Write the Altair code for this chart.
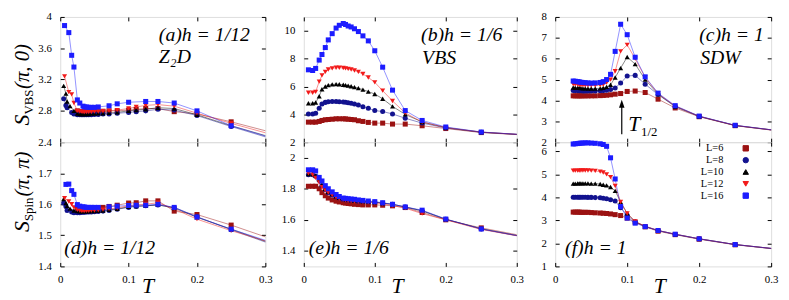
import altair as alt
import pandas as pd

SERIF = "Liberation Serif, DejaVu Serif, serif"
SERIES = ["L=6", "L=8", "L=10", "L=12", "L=16"]
COLORS = ["#9b1212", "#12128f", "#000000", "#f21a1a", "#1c1cff"]
SHAPES = ["square", "circle", "triangle-up", "triangle-down", "square"]
X_TICKS = [0, 0.1, 0.2, 0.3]

# ---------------- temperature grids ----------------
T_A = [0.0050, 0.0063, 0.0083, 0.0100, 0.0125, 0.0143, 0.0167, 0.0200, 0.0250, 0.0286,
       0.0312, 0.0333, 0.0357, 0.0385, 0.0417, 0.0455, 0.0500, 0.0556, 0.0625, 0.0714,
       0.0833, 0.1000, 0.1111, 0.1250, 0.1429, 0.1667, 0.2000, 0.2500, 0.3333]
T_B = [0.0065, 0.0125, 0.0167, 0.0217, 0.0256, 0.0303, 0.0345, 0.0400, 0.0455, 0.0500,
       0.0556, 0.0588, 0.0625, 0.0667, 0.0714, 0.0769, 0.0833, 0.0909, 0.1000, 0.1111,
       0.1250, 0.1429, 0.1667, 0.2000, 0.2500, 0.3333]
T_C = [0.0250, 0.0278, 0.0312, 0.0333, 0.0357, 0.0385, 0.0417, 0.0455, 0.0500, 0.0556,
       0.0625, 0.0667, 0.0714, 0.0769, 0.0833, 0.0909, 0.1000, 0.1111, 0.1250, 0.1429,
       0.1667, 0.2000, 0.2500, 0.3333]

# ---------------- (a) S_VBS, h = 1/12 ----------------
A_L6 = [None, None, None, None, None, None, None, None, 2.80, 2.79, 2.79, 2.79, 2.79, 2.79,
        2.79, 2.79, 2.79, 2.79, 2.795, 2.80, 2.80, 2.81, 2.82, 2.83, 2.83, 2.79, 2.76, 2.66, 2.47]
A_L8 = [2.955, None, 2.87, 2.84, None, None, 2.78, 2.76, 2.75, 2.75, 2.75, 2.75, 2.75, 2.75,
        2.75, 2.75, 2.755, 2.755, 2.76, 2.76, 2.77, 2.78, 2.79, 2.80, 2.82, 2.81, 2.74, 2.60, 2.38]
A_L10 = [3.12, None, 3.02, 2.92, None, 2.86, None, 2.80, 2.765, 2.76, 2.76, 2.76, 2.76, 2.76,
         2.76, 2.765, 2.765, 2.77, 2.77, 2.775, 2.78, 2.80, 2.81, 2.82, 2.84, 2.83, 2.75, 2.61, 2.40]
A_L12 = [None, 3.24, None, None, 3.04, None, 3.01, 2.90, 2.80, 2.79, 2.79, 2.785, 2.785, 2.785,
         2.785, 2.785, 2.79, 2.79, 2.795, 2.80, 2.81, 2.83, 2.85, 2.87, 2.88, 2.86, 2.77, 2.64, 2.44]
A_L16 = [None, 3.89, None, None, 3.80, None, 3.51, 3.36, 2.94, 2.90, None, 2.86, 2.85, 2.85,
         2.845, 2.845, 2.845, 2.85, None, 2.865, 2.89, 2.91, None, 2.92, 2.92, 2.90, 2.80, 2.61, 2.39]

# ---------------- (b) S_VBS, h = 1/6 ----------------
B_L6 = [3.44, 3.44, 3.44, 3.49, 3.56, 3.61, 3.63, 3.65, 3.68, 3.68, 3.68, 3.67, 3.65, 3.63,
        3.61, 3.54, 3.49, 3.42, 3.37, 3.37, 3.30, 3.30, 3.18, 2.98, 2.69, 2.45]
B_L8 = [4.03, 4.03, 4.08, 4.43, 4.75, 4.86, 4.90, 4.92, 4.92, 4.90, 4.88, 4.87, 4.84, 4.80,
        4.74, 4.67, 4.55, 4.43, 4.27, 4.20, 4.03, 3.72, 3.37, 3.02, 2.71, 2.46]
B_L10 = [4.80, 4.80, 4.85, 5.30, 5.80, 6.00, 6.10, 6.15, 6.17, 6.16, 6.13, 6.10, 6.06, 6.02,
         5.96, 5.88, 5.78, 5.63, 5.46, 5.12, 4.57, 4.00, 3.45, 3.05, 2.72, 2.46]
B_L12 = [5.55, 5.55, 5.62, 6.35, 6.80, 7.05, 7.22, 7.30, 7.35, 7.35, 7.33, 7.30, 7.27, 7.22,
         7.15, 7.05, 6.90, 6.65, 6.30, 5.70, 4.96, 4.10, 3.45, 3.05, 2.72, 2.46]
B_L16 = [7.20, 7.15, 7.30, 7.90, 8.30, 8.80, 9.35, 9.80, 10.20, 10.40, 10.53, 10.46, 10.35, 10.28,
         10.15, 9.95, 9.64, 9.28, 8.57, 7.39, 5.74, 4.27, 3.56, 3.09, 2.73, 2.46]

# ---------------- (c) S_VBS, h = 1 ----------------
C_L6 = [4.22, 4.22, 4.22, 4.22, 4.22, 4.22, 4.22, 4.22, 4.22, 4.22, 4.23, 4.24, 4.25, 4.27,
        4.30, 4.33, 4.43, 4.45, 4.38, 4.06, 3.64, 3.22, 2.79, 2.44]
C_L8 = [4.48, 4.47, 4.47, 4.46, 4.46, 4.45, 4.45, 4.45, 4.45, 4.45, 4.46, 4.47, 4.49, 4.52,
        4.60, 4.83, 5.17, 5.20, 4.78, 4.28, 3.70, 3.23, 2.80, 2.45]
C_L10 = [4.62, 4.61, 4.60, 4.60, 4.59, 4.58, 4.58, 4.57, 4.57, 4.57, 4.58, 4.60, 4.65, 4.75,
         5.10, 5.55, 6.08, 5.74, 5.00, 4.30, 3.72, 3.24, 2.80, 2.45]
C_L12 = [4.78, 4.77, 4.76, 4.75, 4.74, 4.73, 4.72, 4.72, 4.72, 4.72, 4.73, 4.76, 4.85, 5.00,
         5.40, 6.35, 6.66, 6.00, 5.10, 4.33, 3.73, 3.24, 2.80, 2.45]
C_L16 = [4.93, 4.92, 4.90, 4.89, 4.87, 4.86, 4.85, 4.84, 4.83, 4.84, 4.86, 4.90, 5.00, 5.25,
         6.35, 7.65, 7.15, 6.07, 5.13, 4.35, 3.75, 3.25, 2.81, 2.45]

# ---------------- (d) S_Spin, h = 1/12 ----------------
D_L6 = [None, None, None, None, None, None, None, None, 1.583, 1.580, 1.580, 1.580, 1.580, 1.581,
        1.582, 1.584, 1.586, 1.588, 1.590, 1.593, 1.597, 1.604, 1.605, 1.611, 1.611, 1.578, 1.567,
        1.533, 1.470]
D_L8 = [1.604, None, 1.593, 1.580, None, None, 1.575, 1.573, 1.573, 1.573, 1.574, 1.574, 1.574,
        1.575, 1.575, 1.575, 1.576, 1.577, 1.578, 1.580, 1.584, 1.590, 1.593, 1.595, 1.598, 1.590,
        1.560, 1.518, 1.452]
D_L10 = [1.617, None, 1.604, 1.594, None, 1.586, None, 1.580, 1.578, 1.577, 1.577, 1.577, 1.577,
         1.577, 1.577, 1.578, 1.578, 1.579, 1.580, 1.582, 1.585, 1.592, 1.594, 1.595, 1.598, 1.588,
         1.558, 1.520, 1.455]
D_L12 = [None, 1.620, None, None, 1.609, None, 1.600, 1.590, 1.582, 1.580, 1.579, 1.579, 1.579,
         1.579, 1.579, 1.580, 1.580, 1.581, 1.583, 1.585, 1.588, 1.595, 1.598, 1.600, 1.605, 1.585,
         1.552, 1.515, 1.460]
D_L16 = [None, None, 1.664, None, 1.665, None, 1.644, 1.632, 1.599, 1.594, None, 1.592, 1.591,
         1.590, 1.590, 1.590, 1.590, 1.590, None, 1.592, 1.594, 1.596, 1.597, 1.597, 1.600, 1.590,
         1.559, 1.520, 1.460]

# ---------------- (e) S_Spin, h = 1/6 ----------------
E_L6 = [1.816, 1.816, 1.816, 1.800, 1.775, 1.755, 1.740, 1.728, 1.720, 1.715, 1.710, 1.708, 1.705,
        1.703, 1.700, 1.698, 1.696, 1.696, 1.696, 1.694, 1.690, 1.679, 1.647, 1.600, 1.548, 1.475]
E_L8 = [1.890, 1.890, 1.880, 1.855, 1.820, 1.795, 1.775, 1.760, 1.748, 1.740, 1.733, 1.730, 1.728,
        1.726, 1.724, 1.720, 1.718, 1.716, 1.713, 1.707, 1.700, 1.683, 1.658, 1.603, 1.541, 1.470]
E_L10 = [1.895, 1.895, 1.885, 1.860, 1.825, 1.800, 1.780, 1.765, 1.752, 1.742, 1.735, 1.732, 1.730,
         1.727, 1.725, 1.722, 1.720, 1.717, 1.714, 1.708, 1.700, 1.682, 1.658, 1.604, 1.542, 1.470]
E_L12 = [1.900, 1.890, 1.870, 1.840, 1.810, 1.790, 1.775, 1.760, 1.745, 1.735, 1.728, 1.725, 1.722,
         1.720, 1.718, 1.716, 1.714, 1.712, 1.710, 1.703, 1.692, 1.675, 1.640, 1.600, 1.538, 1.470]
E_L16 = [1.922, 1.922, 1.915, 1.873, 1.850, 1.820, 1.800, 1.780, 1.763, 1.750, 1.740, 1.738, 1.736,
         1.734, 1.732, 1.728, 1.725, 1.721, 1.717, 1.710, 1.700, 1.683, 1.662, 1.605, 1.541, 1.470]

# ---------------- (f) S_Spin, h = 1 ----------------
F_L6 = [3.36, 3.36, 3.36, 3.36, 3.35, 3.35, 3.35, 3.35, 3.34, 3.33, 3.32, 3.31, 3.30, 3.28,
        3.25, 3.21, 3.10, 2.92, 2.72, 2.53, 2.38, 2.18, 1.94, 1.66]
F_L8 = [4.01, 4.01, 4.01, 4.01, 4.01, 4.01, 4.01, 4.00, 4.00, 3.99, 3.98, 3.96, 3.94, 3.90,
        3.84, 3.55, 3.22, 2.93, 2.73, 2.56, 2.39, 2.20, 1.95, 1.67]
F_L10 = [4.60, 4.60, 4.61, 4.61, 4.61, 4.61, 4.61, 4.61, 4.60, 4.60, 4.58, 4.55, 4.52, 4.45,
         4.28, 3.80, 3.30, 2.95, 2.74, 2.56, 2.40, 2.20, 1.95, 1.67]
F_L12 = [5.16, 5.16, 5.16, 5.16, 5.17, 5.17, 5.17, 5.17, 5.16, 5.15, 5.12, 5.08, 5.00, 4.88,
         4.50, 3.80, 3.30, 2.95, 2.75, 2.56, 2.40, 2.20, 1.95, 1.67]
F_L16 = [6.32, 6.33, 6.34, 6.35, 6.36, 6.36, 6.37, 6.37, 6.36, 6.35, 6.33, 6.30, 6.22, 5.72,
         4.80, 3.60, 3.10, 2.88, 2.73, 2.56, 2.40, 2.20, 1.95, 1.67]

# legend symbols: error-bar sample with the marker in the middle
BAR = "M-2.9,0H2.9M-2.9,-0.5V0.5M2.9,-0.5V0.5"
LEGEND_PATHS = [
    BAR + "M-0.42,-0.42H0.42V0.42H-0.42Z",
    BAR + "M-0.47,0A0.47,0.47,0,1,1,0.47,0A0.47,0.47,0,1,1,-0.47,0Z",
    BAR + "M0,-0.55L0.5,0.35L-0.5,0.35Z",
    BAR + "M0,0.55L0.5,-0.35L-0.5,-0.35Z",
    BAR + "M-0.42,-0.42H0.42V0.42H-0.42Z",
]

ONE = pd.DataFrame({"k": [0]})


def js_list(items):
    return "[" + ",".join("'" + s + "'" for s in items) + "]"


IDX = "indexof(" + js_list(SERIES) + ", datum.value)"
PATH_EXPR = js_list(LEGEND_PATHS) + "[" + IDX + "]"
COLOR_EXPR = js_list(COLORS) + "[" + IDX + "]"


def tidy(T, cols):
    rows = []
    for name, vals in zip(SERIES, cols):
        for t, v in zip(T, vals):
            if v is not None:
                rows.append({"T": t, "S": v, "L": name, "Lm": name})
    return pd.DataFrame(rows)


def txt(text, x, y, size=20, style="italic", angle=0, align="left", baseline="alphabetic"):
    return alt.Chart(ONE).mark_text(
        text=text, font=SERIF, fontSize=size, fontStyle=style, angle=angle,
        align=align, baseline=baseline, color="black"
    ).encode(x=alt.value(x), y=alt.value(y))


def panel(df, w, h, ydom, yvals, xlabels, extras, legend=False):
    xsc = alt.Scale(domain=[0, 0.3], nice=False, zero=False)
    ysc = alt.Scale(domain=ydom, nice=False, zero=False)
    cs = alt.Scale(domain=SERIES, range=COLORS)
    ss = alt.Scale(domain=SERIES, range=SHAPES)
    common = dict(tickSize=4, offset=-4, domain=False, grid=False, tickColor="black",
                  labelFont=SERIF, labelFontSize=11, labelColor="black", title=None,
                  labelFlush=False, labelOverlap=False)
    xax = alt.Axis(orient="bottom", values=X_TICKS, format="~r", labels=xlabels,
                   labelPadding=7, **common)
    yax = alt.Axis(orient="left", values=yvals, format="~r", labelPadding=9, **common)
    xax2 = alt.Axis(orient="top", values=X_TICKS, labels=False, **common)
    yax2 = alt.Axis(orient="right", values=yvals, labels=False, **common)

    if legend:
        color_legend = alt.Legend(
            title=None, orient="none", legendX=188, legendY=1,
            labelAlign="right", labelOffset=alt.ExprRef(expr="-28"),
            labelFont=SERIF, labelFontSize=10.5, labelColor="black",
            symbolSize=30, symbolStrokeWidth=1, symbolOpacity=1,
            symbolType=alt.ExprRef(expr=PATH_EXPR),
            symbolFillColor=alt.ExprRef(expr=COLOR_EXPR),
            rowPadding=1, padding=0,
        )
    else:
        color_legend = None

    lines = alt.Chart(df).mark_line(strokeWidth=0.8, strokeOpacity=0.6, clip=True).encode(
        x=alt.X("T:Q", scale=xsc, axis=xax),
        y=alt.Y("S:Q", scale=ysc, axis=yax),
        color=alt.Color("L:N", scale=cs, legend=color_legend),
    )
    pts = alt.Chart(df).transform_filter("datum.T <= 0.3").mark_point(
        filled=True, size=26, opacity=1).encode(
        x=alt.X("T:Q", scale=xsc, axis=xax2),
        y=alt.Y("S:Q", scale=ysc, axis=yax2),
        color=alt.Color("L:N", scale=cs, legend=None),
        shape=alt.Shape("Lm:N", scale=ss, legend=None),
    )
    layers = [lines, pts] + extras
    ch = alt.layer(*layers).resolve_axis(x="independent", y="independent")
    return ch.properties(width=w, height=h)


H_TOP, H_BOT = 127, 126
W_A, W_B, W_C = 208, 216, 219

pa = panel(tidy(T_A, [A_L6, A_L8, A_L10, A_L12, A_L16]), W_A, H_TOP, [2.4, 4.0],
           [2.4, 2.8, 3.2, 3.6, 4.0], False,
           [txt("(a)h = 1/12", 100, 24), txt("Z\u2082D", 100, 47),
            txt("S", -32, 110, size=22, angle=270),
            txt("VBS", -28, 99, size=13, style="normal", angle=270),
            txt("(\u03c0, 0)", -32, 73, size=21, angle=270)])
pb = panel(tidy(T_B, [B_L6, B_L8, B_L10, B_L12, B_L16]), W_B, H_TOP, [2, 11],
           [2, 4, 6, 8, 10], False,
           [txt("(b)h = 1/6", 119, 24), txt("VBS", 120, 48)])

arrow_rule = alt.Chart(ONE).mark_rule(color="black", strokeWidth=1.2).encode(
    x=alt.value(67.5), y=alt.value(90), y2=alt.value(119))
arrow_head = alt.Chart(ONE).mark_point(
    shape="M0,-1L0.7,1L-0.7,1Z", size=64, filled=True, color="black", opacity=1).encode(
    x=alt.value(67.5), y=alt.value(88))
pc = panel(tidy(T_C, [C_L6, C_L8, C_L10, C_L12, C_L16]), W_C, H_TOP, [2, 8],
           [2, 3, 4, 5, 6, 7, 8], False,
           [txt("(c)h = 1", 146, 24), txt("SDW", 147, 48), arrow_rule, arrow_head,
            txt("T", 74, 116, size=22), txt("1/2", 87, 121, size=13, style="normal")])

pd_ = panel(tidy(T_A, [D_L6, D_L8, D_L10, D_L12, D_L16]), W_A, H_BOT, [1.4, 1.8],
            [1.4, 1.5, 1.6, 1.7], True,
            [txt("(d)h = 1/12", 4, 113),
             txt("S", -32, 91, size=22, angle=270),
             txt("Spin", -28, 80, size=13, style="normal", angle=270),
             txt("(\u03c0, \u03c0)", -32, 55, size=21, angle=270),
             txt("T", 89, 153, size=22, align="center")])
pe = panel(tidy(T_B, [E_L6, E_L8, E_L10, E_L12, E_L16]), W_B, H_BOT, [1.3, 2.1],
           [1.4, 1.6, 1.8, 2.0], True,
           [txt("(e)h = 1/6", 5, 113), txt("T", 95, 153, size=22, align="center")])
pf = panel(tidy(T_C, [F_L6, F_L8, F_L10, F_L12, F_L16]), W_C, H_BOT, [1, 6.4],
           [1, 2, 3, 4, 5, 6], True,
           [txt("(f)h = 1", 10, 113), txt("T", 106, 153, size=22, align="center")],
           legend=True)

IND = dict(color="independent", shape="independent")

chart = alt.concat(pa, pb, pc, pd_, pe, pf, columns=3, spacing={"row": 0, "column": 39},
                   bounds="flush", align="each").resolve_scale(**IND).properties(
    padding={"left": 2, "top": 0, "right": 2, "bottom": 0}
).configure_view(stroke="black", strokeWidth=1).configure(font=SERIF)

chart.save("out.html", embed_options={"renderer": "svg", "actions": False})
